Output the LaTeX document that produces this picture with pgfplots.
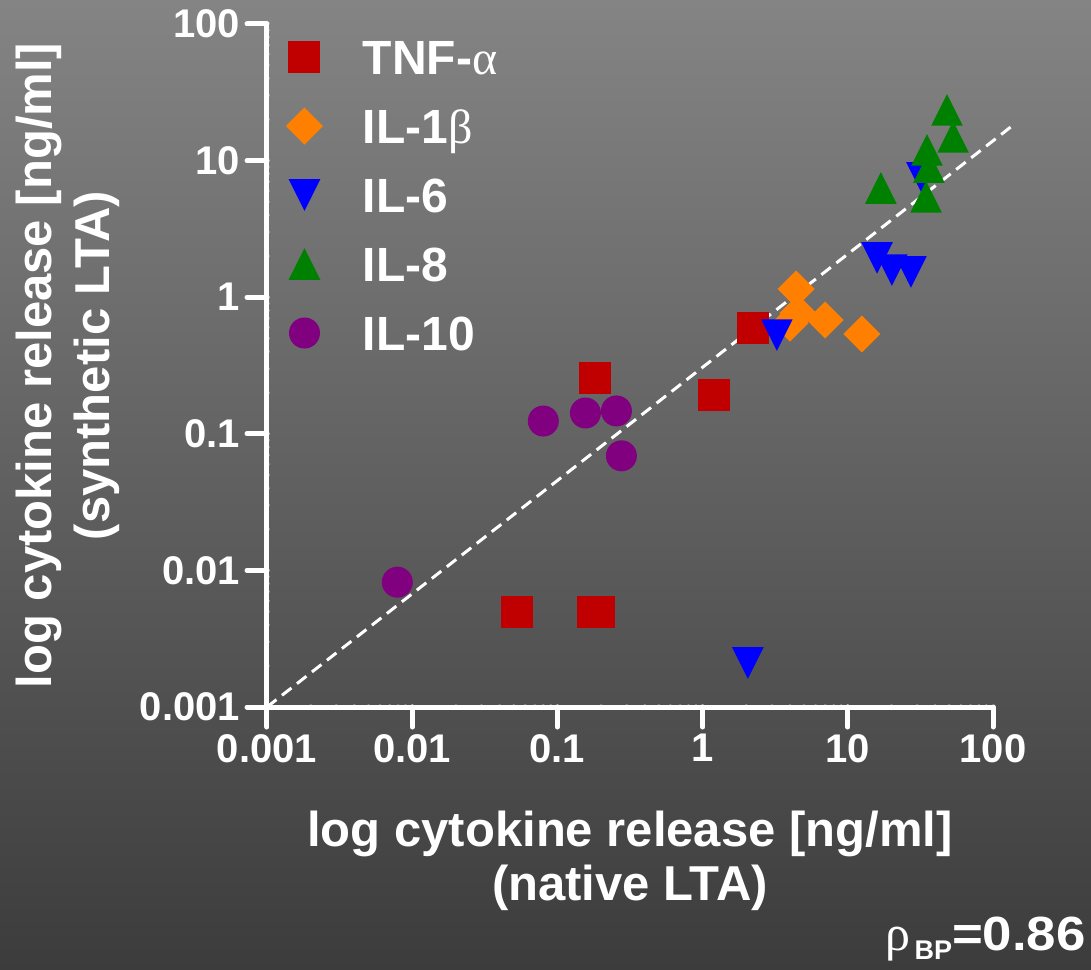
\documentclass[border=0pt]{standalone}
\usepackage{fontspec}
\setmainfont{Liberation Sans}
\newfontfamily\grk{Liberation Serif}
\usepackage{pgfplots}
\pgfplotsset{compat=1.18}
\definecolor{bgtop}{RGB}{132,132,132}
\definecolor{bgbot}{RGB}{60,60,60}
\definecolor{ctnf}{RGB}{192,0,0}
\definecolor{cil1}{RGB}{255,128,0}
\definecolor{cil6}{RGB}{0,0,255}
\definecolor{cil8}{RGB}{0,128,0}
\definecolor{cil10}{RGB}{128,0,128}
\pgfdeclareplotmark{msq}{\pgfpathrectangle{\pgfqpoint{-\pgfplotmarksize}{-\pgfplotmarksize}}{\pgfqpoint{2\pgfplotmarksize}{2\pgfplotmarksize}}\pgfusepathqfill}
\pgfdeclareplotmark{mdia}{\pgfpathmoveto{\pgfqpoint{0pt}{\pgfplotmarksize}}\pgfpathlineto{\pgfqpoint{\pgfplotmarksize}{0pt}}\pgfpathlineto{\pgfqpoint{0pt}{-\pgfplotmarksize}}\pgfpathlineto{\pgfqpoint{-\pgfplotmarksize}{0pt}}\pgfpathclose\pgfusepathqfill}
\pgfdeclareplotmark{mtup}{\pgfpathmoveto{\pgfqpoint{0pt}{\pgfplotmarksize}}\pgfpathlineto{\pgfqpoint{\pgfplotmarksize}{-\pgfplotmarksize}}\pgfpathlineto{\pgfqpoint{-\pgfplotmarksize}{-\pgfplotmarksize}}\pgfpathclose\pgfusepathqfill}
\pgfdeclareplotmark{mtdn}{\pgfpathmoveto{\pgfqpoint{0pt}{-\pgfplotmarksize}}\pgfpathlineto{\pgfqpoint{\pgfplotmarksize}{\pgfplotmarksize}}\pgfpathlineto{\pgfqpoint{-\pgfplotmarksize}{\pgfplotmarksize}}\pgfpathclose\pgfusepathqfill}
\pgfdeclareplotmark{mcirc}{\pgfpathcircle{\pgfpointorigin}{\pgfplotmarksize}\pgfusepathqfill}
\begin{document}
\begin{tikzpicture}
\useasboundingbox (-133.5pt,-131pt) rectangle (412pt,353.5pt);
\shade[top color=bgtop, bottom color=bgbot] (-133.5pt,-131pt) rectangle (412pt,353.5pt);
\begin{axis}[
  at={(0pt,0pt)}, anchor=south west,
  scale only axis, width=363pt, height=341.5pt,
  xmode=log, ymode=log,
  xmin=0.001, xmax=100, ymin=0.001, ymax=100,
  axis lines*=left,
  axis line style={white, line width=2.5pt, line cap=round},
  tick style={white, line width=2.5pt, line cap=round},
  major tick length=10pt, minor tick length=0pt,
  tick align=outside,
  xtick={0.001,0.01,0.1,1,10,100},
  ytick={0.001,0.01,0.1,1,10,100},
  xticklabels={0.001,0.01,0.1,1,10,100},
  yticklabels={0.001,0.01,0.1,1,10,100},
  ticklabel style={font=\fontsize{20}{24}\selectfont\bfseries, text=white},
  clip=false,
  legend cell align=left,
  legend style={at={(axis description cs:0,1)}, anchor=north west,
    xshift=9.5pt, yshift=-6.5pt, draw=none, fill=none,
    inner sep=0pt, outer sep=0pt, row sep=14.5pt, column sep=20pt,
    font=\fontsize{24}{28}\selectfont\bfseries, text=white,
    nodes={inner sep=0pt, text height=17.2pt, text depth=0pt, minimum height=20pt}},
]
\addplot[only marks, color=ctnf, mark=msq, mark size=8pt] coordinates {
 (0.1815,0.256) (2.22,0.596) (1.197,0.192) (0.0527,0.00495) (0.176,0.00495) (0.194,0.00495)};
\addlegendentry{TNF-{\grk\mdseries α}}
\addplot[only marks, color=cil1, mark=mdia, mark size=9.25pt] coordinates {
 (4.40,1.148) (4.54,0.766) (4.0,0.647) (6.97,0.681) (12.5,0.538)};
\addlegendentry{IL-1{\grk\mdseries β}}
\addplot[only marks, color=cil6, mark=mtdn, mark size=7.9pt] coordinates {
 (3.25,0.528) (15.9,1.94) (20.1,1.58) (27.2,1.53) (32.4,7.46) (2.05,0.0021)};
\addlegendentry{IL-6}
\addplot[only marks, color=cil8, mark=mtup, mark size=7.9pt] coordinates {
 (48.2,23.5) (53.1,14.9) (35.1,11.97) (36.2,8.98) (16.9,6.3) (34.6,5.42)};
\addlegendentry{IL-8}
\addplot[only marks, color=cil10, mark=mcirc, mark size=7.75pt] coordinates {
 (0.0079,0.0082) (0.08,0.124) (0.156,0.142) (0.255,0.147) (0.276,0.069)};
\addlegendentry{IL-10}
\addplot[white, line width=1.5pt, dash pattern=on 6pt off 3.5pt, forget plot] coordinates {(0.001,0.001) (135,17.9)};
\end{axis}
\begin{scope}[every node/.style={text=white, font=\fontsize{24.5}{30}\selectfont\bfseries, inner sep=0pt}]
\node[anchor=base] at (181.5pt,-69.5pt) {log cytokine release [ng/ml]};
\node[anchor=base] at (181.5pt,-96.5pt) {(native LTA)};
\node[anchor=base, rotate=90] at (-107.5pt,170.75pt) {log cytokine release [ng/ml]};
\node[anchor=base, rotate=90] at (-78.5pt,170.75pt) {(synthetic LTA)};
\node[anchor=base east] at (409.5pt,-121.5pt) {{\fontsize{25}{28}\selectfont\grk\mdseries ρ}\hspace{2pt}\raisebox{-4.5pt}{\fontsize{13.5}{16}\selectfont\bfseries BP}\scalebox{1.1}[1]{\fontsize{24}{28}\selectfont\bfseries =0.86}};
\end{scope}
\end{tikzpicture}
\end{document}
